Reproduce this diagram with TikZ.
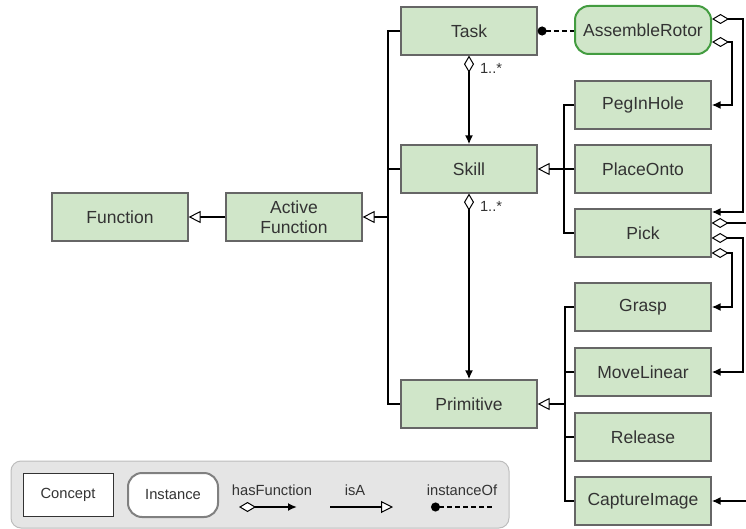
\documentclass[tikz,border=0pt]{standalone}
\usepackage{fontspec}
\setmainfont{Liberation Sans}
\usetikzlibrary{arrows.meta,positioning,calc}

\definecolor{conceptgreen}{HTML}{D0E6C9}
\definecolor{boxgray}{HTML}{666666}
\definecolor{instgreen}{HTML}{439C40}
\definecolor{textgray}{HTML}{333333}
\definecolor{legendbg}{HTML}{E5E5E5}
\definecolor{legendline}{HTML}{BDBDBD}

\newcommand{\boxfont}{\fontsize{17.5}{20}\selectfont}
\newcommand{\smallfont}{\fontsize{14.7}{17}\selectfont}

\tikzset{
  concept/.style={draw=boxgray, fill=conceptgreen, line width=1.2pt,
    minimum width=136pt, minimum height=48pt, inner sep=2pt,
    text=textgray, align=center, font=\boxfont},
  instance/.style={concept, draw=instgreen, line width=2pt, rounded corners=14pt},
  plain/.style={line width=2pt},
  isa/.style={line width=2pt,
    -{Triangle[fill=white, length=12pt, width=12pt, line width=1pt]}},
  hasfn/.style={line width=2pt,
    {Diamond[fill=white, length=17pt, width=10pt, line width=1pt]}-{Latex[length=9pt, width=8pt]}},
  instof/.style={line width=1.6pt, dash pattern=on 5pt off 3pt, {Circle[length=9pt]}-},
  mult/.style={text=textgray, font=\smallfont, inner sep=1pt},
  legendtxt/.style={text=textgray, font=\smallfont, inner sep=1pt},
}

\begin{document}
\begin{tikzpicture}[x=1pt, y=-1pt]
    \path[use as bounding box] (0,0) rectangle (746,529);

    % Concepts
    \node[concept] (func)  at (120,217) {Function};
    \node[concept] (afunc) at (294,217) {Active\\Function};
    \node[concept] (task)  at (469,31)  {Task};
    \node[concept] (skill) at (469,169) {Skill};
    \node[concept] (prim)  at (469,404) {Primitive};

    \node[instance] (rotor) at (643,30) {AssembleRotor};

    \node[concept] (peg)     at (643,105) {PegInHole};
    \node[concept] (place)   at (643,169) {PlaceOnto};
    \node[concept] (pick)    at (643,233) {Pick};
    \node[concept] (grasp)   at (643,307) {Grasp};
    \node[concept] (movelin) at (643,372) {MoveLinear};
    \node[concept] (release) at (643,437) {Release};
    \node[concept] (capture) at (643,501) {CaptureImage};

    % isA tree on the left
    \coordinate (ftrunk) at (388,217);
    \draw[plain] (task.west) -- (task.west -| ftrunk) |- (prim.west);
    \draw[plain] (skill.west) -- (skill.west -| ftrunk);
    \draw[isa] (ftrunk) -- (afunc.east);
    \draw[isa] (afunc.west) -- (func.east);

    % isA for skills
    \draw[plain] (peg.west) -- ++(-10,0) |- (pick.west);
    \draw[isa] (place.west) -- (skill.east);

    % isA for primitives
    \coordinate (ptrunk) at (565,404);
    \draw[plain] (grasp.west) -- (grasp.west -| ptrunk) |- (capture.west);
    \draw[plain] (movelin.west) -- (movelin.west -| ptrunk);
    \draw[plain] (release.west) -- (release.west -| ptrunk);
    \draw[isa] (ptrunk) -- (prim.east);

    % hasFunction in the middle
    \draw[hasfn] (task.south) -- (skill.north)
        node[mult, pos=0, anchor=north west, xshift=9pt, yshift=-6pt] {1..*};
    \draw[hasfn] (skill.south) -- (prim.north)
        node[mult, pos=0, anchor=north west, xshift=9pt, yshift=-6pt] {1..*};

    % instanceOf
    \draw[instof] (task.east) -- (task.east -| rotor.west);

    % hasFunction on the right
    \draw[hasfn] ([yshift=11pt]rotor.east) -- ++(31,0) |- ([yshift=21pt]pick.east);
    \draw[hasfn] ([yshift=-12pt]rotor.east) -- ++(20,0) |- (peg.east);
    \draw[hasfn] ([yshift=10pt]pick.east) -- ++(38,0) |- (capture.east);
    \draw[hasfn] ([yshift=-5pt]pick.east) -- ++(31,0) |- (movelin.east);
    \draw[hasfn] ([yshift=-20pt]pick.east) -- ++(20,0) |- (grasp.east);

    % Legend
    \draw[fill=legendbg, draw=legendline, line width=1pt, rounded corners=10pt]
        (11,461) rectangle (509,528);
    \node[draw=textgray, fill=white, line width=1pt, minimum width=90pt,
        minimum height=43pt, text=textgray, font=\smallfont] (lgConcept) at (68,494.5) {Concept};
    \node[draw=gray, fill=white, line width=2pt, rounded corners=14pt, minimum width=90pt,
        minimum height=44pt, text=textgray, font=\smallfont] (lgInstance) at (173,495) {Instance};

    \node[legendtxt] (lgHas) at (272,490) {hasFunction};
    \coordinate (lgHasA) at (239,507);
    \coordinate (lgHasB) at (297,507);
    \draw[hasfn] (lgHasA) -- (lgHasB);

    \node[legendtxt] (lgIsa) at (355,490) {isA};
    \coordinate (lgIsaA) at (330,507);
    \coordinate (lgIsaB) at (393,507);
    \draw[isa] (lgIsaA) -- (lgIsaB);

    \node[legendtxt] (lgInst) at (462,490) {instanceOf};
    \coordinate (lgInstA) at (431,507);
    \coordinate (lgInstB) at (493,507);
    \draw[instof] (lgInstA) -- (lgInstB);
\end{tikzpicture}
\end{document}
